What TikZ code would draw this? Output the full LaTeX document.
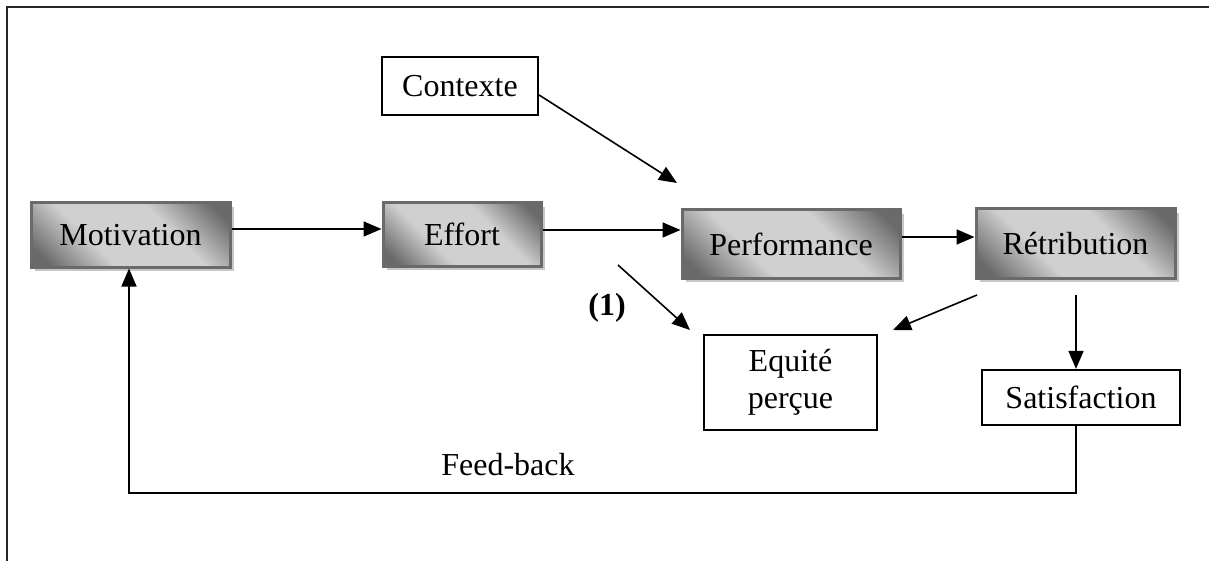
\documentclass[tikz,border=0pt]{standalone}
\usepackage{fontspec}
\setmainfont{Liberation Serif}
\usetikzlibrary{arrows.meta,shadows}
\definecolor{boxdark}{HTML}{6A6A6A}
\definecolor{boxlight}{HTML}{D0D0D0}
\pgfdeclareverticalshading{boxshade}{100bp}{color(0bp)=(boxdark); color(20bp)=(boxdark); color(38bp)=(boxlight); color(62bp)=(boxlight); color(80bp)=(boxdark); color(100bp)=(boxdark)}
\begin{document}
\begin{tikzpicture}[x=1pt,y=-1pt,
  every node/.style={font=\fontsize{32}{37}\selectfont, inner sep=0pt},
  shadedbox/.style={rectangle, draw=boxdark, line width=3pt,
    shading=boxshade, shading angle=-45,
    drop shadow={shadow xshift=4pt, shadow yshift=-4pt, fill=black!22, opacity=1}},
  plainbox/.style={rectangle, draw=black, line width=2.2pt, fill=white, align=center},
  arr/.style={line width=1.6pt, -{Triangle[length=18pt,width=15pt]}},
  ln/.style={line width=1.6pt}]
\useasboundingbox (0,0) rectangle (1209,561);
\fill[white] (0,0) rectangle (1209,561);
\draw[line width=1.6pt, black!85] (7,561) -- (7,7) -- (1209,7);

\node[shadedbox, minimum width=199pt, minimum height=64pt] (mot) at (130.5,235) {Motivation};
\node[shadedbox, minimum width=158pt, minimum height=63pt] (eff) at (462,234.5) {Effort};
\node[shadedbox, minimum width=218pt, minimum height=68pt] (perf) at (791,244) {Performance};
\node[shadedbox, minimum width=199pt, minimum height=69pt] (ret) at (1075.5,243.5) {Rétribution};
\node[plainbox, minimum width=156pt, minimum height=58pt] (ctx) at (460,86) {Contexte};
\node[plainbox, minimum width=173pt, minimum height=95pt] (eq) at (790.5,382.5) {Equité\\perçue};
\node[plainbox, minimum width=198pt, minimum height=55pt] (sat) at (1081,397.5) {Satisfaction};
\node (fb) at (508,465) {Feed-back};
\node (one) at (607,308) {\bfseries (1)};

\coordinate (ctxend) at (677,183);
\coordinate (onestart) at (618,265);
\coordinate (oneend) at (690,330);
\coordinate (retstart) at (977,295);
\coordinate (retend) at (893,330);
\coordinate (satstart) at (1076,295);

\draw[arr] ([yshift=6pt]mot.east) -- ([yshift=5.5pt]eff.west);
\draw[arr] ([yshift=4.5pt]eff.east) -- ([yshift=14pt]perf.west);
\draw[arr] ([yshift=7pt]perf.east) -- ([yshift=6.5pt]ret.west);
\draw[arr] ([yshift=-9pt]ctx.east) -- (ctxend);
\draw[arr] (onestart) -- (oneend);
\draw[arr] (retstart) -- (retend);
\draw[arr] (satstart) -- (satstart |- sat.north);
\draw[arr] ([xshift=-5pt]sat.south) -- ++(0,67) -| ([xshift=-1.5pt]mot.south);
\end{tikzpicture}
\end{document}
